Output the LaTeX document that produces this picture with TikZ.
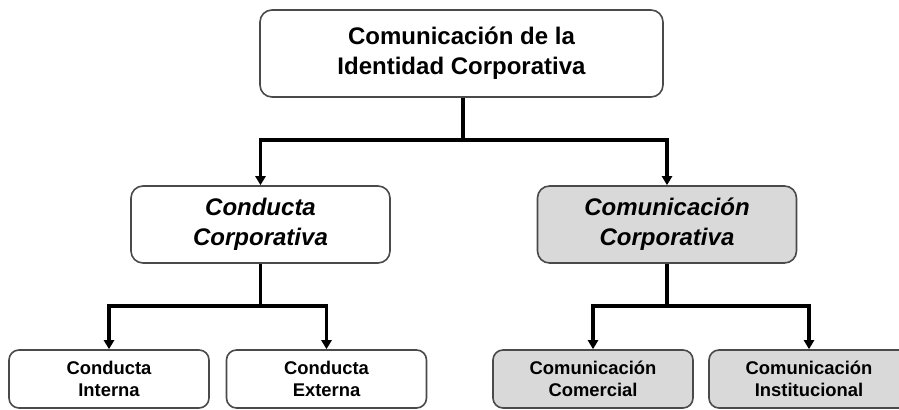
\documentclass[tikz,border=0pt]{standalone}
\usepackage{fontspec}
\setmainfont{Liberation Sans}
\usetikzlibrary{arrows.meta}
\definecolor{boxgray}{HTML}{D9D9D9}
\definecolor{edgegray}{HTML}{4A4A4A}
\tikzset{
  base/.style={draw=edgegray, line width=0.8pt, rounded corners=6pt, align=center, inner sep=0pt},
  topbox/.style={base, minimum width=201.5pt, minimum height=43.5pt, font=\fontsize{12}{15}\selectfont\bfseries},
  midbox/.style={base, minimum width=129.5pt, minimum height=38.5pt, font=\fontsize{12}{15}\selectfont\bfseries\itshape},
  lowbox/.style={base, rounded corners=5pt, minimum width=100pt, minimum height=29pt, font=\fontsize{9.2}{11}\selectfont\bfseries},
  shaded/.style={fill=boxgray},
  link/.style={line width=1.8pt, black},
  arr/.style={link, -{Triangle[width=5pt,length=4.5pt]}}
}
\begin{document}
\begin{tikzpicture}[x=0.5pt,y=-0.5pt]
\clip (0,0) rectangle (899,410);
\fill[white] (0,0) rectangle (899,410);
\node[topbox] (top) at (461.5,53.5) {Comunicación de la\\Identidad Corporativa};
\node[midbox] (ml) at (260.5,224.5) {Conducta\\Corporativa};
\node[midbox, shaded] (mr) at (667,224.5) {Comunicación\\Corporativa};
\node[lowbox] (b1) at (109,379) {Conducta\\Interna};
\node[lowbox] (b2) at (326.5,379) {Conducta\\Externa};
\node[lowbox, shaded] (b3) at (593,379) {Comunicación\\Comercial};
\node[lowbox, shaded] (b4) at (809,379) {Comunicación\\Institucional};
\coordinate (j1) at (463,140);
\coordinate (j2) at (260.5,306);
\coordinate (j3) at (667,306);
\draw[link] (top.south -| j1) -- (j1);
\draw[arr] (j1) -| (ml.north);
\draw[arr] (j1) -| (mr.north);
\draw[link] (ml.south) -- (j2);
\draw[arr] (j2) -| (b1.north);
\draw[arr] (j2) -| (b2.north);
\draw[link] (mr.south) -- (j3);
\draw[arr] (j3) -| (b3.north);
\draw[arr] (j3) -| (b4.north);
\end{tikzpicture}
\end{document}
